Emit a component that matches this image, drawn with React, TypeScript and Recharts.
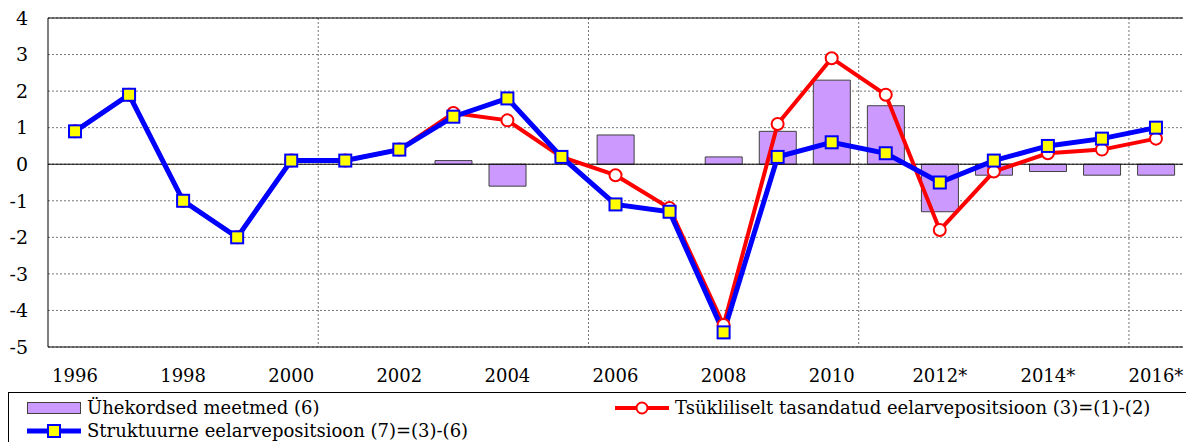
import { ComposedChart, Bar, Line, XAxis, YAxis, CartesianGrid, ReferenceLine } from "recharts";

const years = [
  "1996", "1997", "1998", "1999", "2000", "2001", "2002", "2003", "2004", "2005", "2006",
  "2007", "2008", "2009", "2010", "2011", "2012*", "2013*", "2014*", "2015*", "2016*",
];
// Ühekordsed meetmed (6)
const oneOff = [null, null, null, null, null, null, null, 0.1, -0.6, 0, 0.8, 0, 0.2, 0.9, 2.3, 1.6, -1.3, -0.3, -0.2, -0.3, -0.3];
// Tsükliliselt tasandatud eelarvepositsioon (3)
const cyclical = [0.9, 1.9, -1.0, -2.0, 0.1, 0.1, 0.4, 1.4, 1.2, 0.2, -0.3, -1.2, -4.4, 1.1, 2.9, 1.9, -1.8, -0.2, 0.3, 0.4, 0.7];
// Struktuurne eelarvepositsioon (7)
const structural = [0.9, 1.9, -1.0, -2.0, 0.1, 0.1, 0.4, 1.3, 1.8, 0.2, -1.1, -1.3, -4.6, 0.2, 0.6, 0.3, -0.5, 0.1, 0.5, 0.7, 1.0];
const yTicks = [-5, -4, -3, -2, -1, 0, 1, 2, 3, 4];

const names = {
  oneOff: "Ühekordsed meetmed (6)",
  cyclical: "Tsükliliselt tasandatud eelarvepositsioon (3)=(1)-(2)",
  structural: "Struktuurne eelarvepositsioon (7)=(3)-(6)",
};

const data = years.map((year, i) => ({
  year,
  oneOff: oneOff[i],
  cyclical: cyclical[i],
  structural: structural[i],
}));

const FONT = "'DejaVu Serif', serif";

const SquareDot = (props: any) => {
  const { cx, cy } = props;
  if (cx == null || cy == null) return null;
  return <rect x={cx - 6} y={cy - 6} width={12} height={12} fill="#ffff00" stroke="#0000ff" strokeWidth={2} />;
};

const LegendBox = () => (
  <div
    style={{
      position: "absolute", left: 8, top: 392, width: 1180, height: 60,
      border: "1px solid #000", boxSizing: "border-box", background: "#fff",
      fontFamily: FONT, fontSize: 18, color: "#000",
    }}
  >
    <div style={{ position: "absolute", left: 18, top: 4, display: "flex", alignItems: "center", whiteSpace: "nowrap" }}>
      <svg width={54} height={14} style={{ marginRight: 6 }}>
        <rect x={0.5} y={1.5} width={53} height={11} fill="#cc99ff" stroke="#404040" />
      </svg>
      {names.oneOff}
    </div>
    <div style={{ position: "absolute", left: 606, top: 4, display: "flex", alignItems: "center", whiteSpace: "nowrap" }}>
      <svg width={54} height={14} style={{ marginRight: 6 }}>
        <line x1={0} y1={7} x2={54} y2={7} stroke="#ff0000" strokeWidth={4} />
        <circle cx={27} cy={7} r={5.5} fill="#fff" stroke="#ff0000" strokeWidth={2} />
      </svg>
      {names.cyclical}
    </div>
    <div style={{ position: "absolute", left: 18, top: 27, display: "flex", alignItems: "center", whiteSpace: "nowrap" }}>
      <svg width={54} height={14} style={{ marginRight: 6 }}>
        <line x1={0} y1={7} x2={54} y2={7} stroke="#0000ff" strokeWidth={5} />
        <rect x={21} y={1} width={12} height={12} fill="#ffff00" stroke="#0000ff" strokeWidth={2} />
      </svg>
      {names.structural}
    </div>
  </div>
);

export default function App() {
  return (
    <div style={{ position: "absolute", left: 0, top: 0, width: 1186, height: 442, overflow: "hidden", background: "#fff" }}>
      <ComposedChart
        width={1186}
        height={442}
        data={data}
        margin={{ top: 18, right: 3, left: 8, bottom: 50 }}
        barCategoryGap="16%"
      >
        <CartesianGrid
          stroke="#777"
          strokeDasharray="2 2"
          vertical
          verticalCoordinatesGenerator={({ offset }: any) =>
            [5, 10, 15, 20].map((k) => offset.left + (offset.width * k) / years.length)
          }
        />
        <XAxis
          dataKey="year"
          interval={1}
          tickLine={false}
          axisLine={{ stroke: "#000" }}
          tickMargin={16}
          height={45}
          tick={{ fill: "#000", fontSize: 18, fontFamily: FONT }}
        />
        <YAxis
          domain={[-5, 4]}
          ticks={yTicks}
          width={40}
          tickLine={false}
          axisLine={{ stroke: "#000" }}
          tickMargin={14}
          tick={{ fill: "#000", fontSize: 19, fontFamily: FONT }}
          allowDataOverflow
        />
        <YAxis yAxisId="r" orientation="right" domain={[-5, 4]} ticks={yTicks} width={0} tick={false} tickLine={false} axisLine={{ stroke: "#000" }} />
        <ReferenceLine y={4} stroke="#000" />
        <ReferenceLine y={0} stroke="#000" />
        <Bar dataKey="oneOff" name={names.oneOff} fill="#cc99ff" stroke="#404040" strokeWidth={1} isAnimationActive={false} />
        <Line
          dataKey="cyclical"
          name={names.cyclical}
          stroke="#ff0000"
          strokeWidth={4}
          dot={{ r: 6, fill: "#fff", stroke: "#ff0000", strokeWidth: 2 }}
          isAnimationActive={false}
        />
        <Line
          dataKey="structural"
          name={names.structural}
          stroke="#0000ff"
          strokeWidth={5}
          dot={<SquareDot />}
          isAnimationActive={false}
        />
      </ComposedChart>
      <LegendBox />
    </div>
  );
}
